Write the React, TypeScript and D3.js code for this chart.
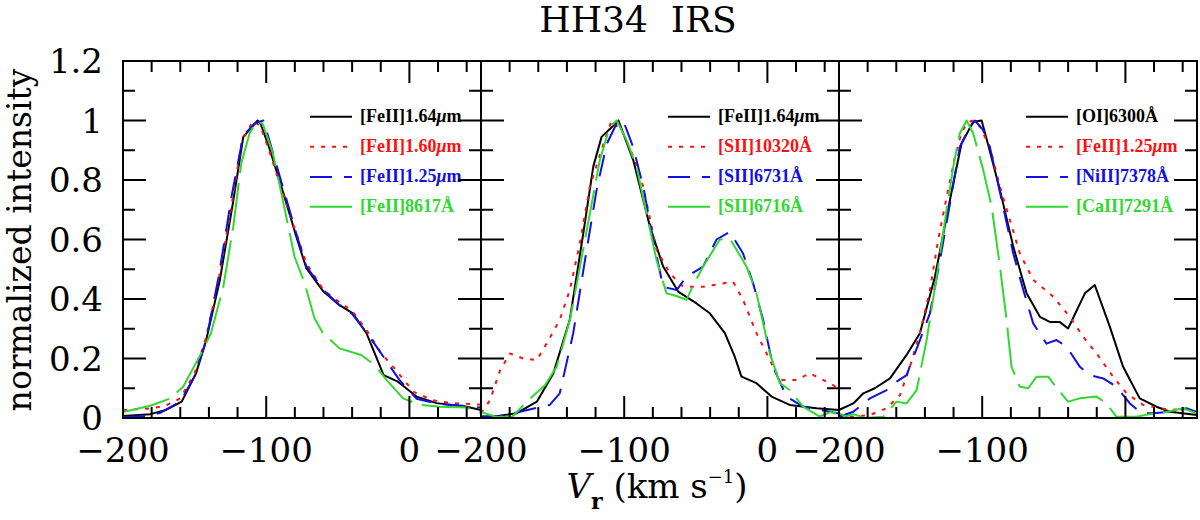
import * as d3 from 'd3'

type Pt = [number, number]

// panel 1: [FeII] lines
const p1Black: Pt[] = [[-200,0.007],[-181,0.013],[-170,0.027],[-159,0.055],[-149,0.15],[-142,0.26],[-132.5,0.46],[-123,0.73],[-116,0.945],[-106,1.0],[-104,0.99],[-98,0.91],[-88,0.756],[-79,0.61],[-72,0.504],[-60,0.425],[-49,0.38],[-39.5,0.352],[-30,0.285],[-18,0.144],[-8,0.122],[5,0.072],[19,0.05],[40,0.038],[50,0.027]]
const p1Red: Pt[] = [[-200,0.027],[-181,0.032],[-170,0.042],[-160,0.066],[-150,0.15],[-142,0.27],[-133,0.47],[-124,0.72],[-117,0.93],[-109,1.0],[-104,0.98],[-98,0.9],[-88,0.75],[-79,0.62],[-72,0.52],[-60,0.43],[-49,0.39],[-40,0.36],[-30,0.296],[-20,0.22],[-11,0.17],[3,0.088],[16,0.06],[30,0.05],[50,0.045]]
const p1Blue: Pt[] = [[-200,0.003],[-185,0.007],[-174,0.017],[-160,0.055],[-150,0.14],[-142,0.26],[-133,0.48],[-124,0.75],[-116,0.95],[-108,0.99],[-102,1.0],[-97,0.92],[-88,0.77],[-79,0.62],[-72,0.51],[-60,0.43],[-49,0.38],[-40,0.35],[-32,0.3],[-23,0.24],[-7,0.128],[5,0.065],[20,0.048],[35,0.042],[50,0.035]]
const p1Green: Pt[] = [[-200,0.02],[-181,0.041],[-167,0.066],[-158,0.105],[-144,0.23],[-138.6,0.285],[-130,0.44],[-123,0.643],[-117.4,0.856],[-111.6,0.957],[-107,0.996],[-102.5,0.99],[-95.3,0.89],[-88.4,0.733],[-80.2,0.542],[-73.2,0.453],[-66.3,0.335],[-60.4,0.285],[-48.8,0.234],[-33.7,0.212],[-24.2,0.178],[-16,0.128],[-4.4,0.066],[7.2,0.044],[21,0.038],[40,0.035],[50,0.017]]

// panel 2: [FeII] vs [SII]
const p2Black: Pt[] = [[-200,0.004],[-188,0.007],[-175,0.016],[-161,0.055],[-149.5,0.15],[-138,0.33],[-128.6,0.62],[-121.6,0.845],[-115.8,0.945],[-106,0.99],[-104,1.0],[-93.7,0.867],[-82,0.643],[-72.8,0.509],[-62.3,0.425],[-49.5,0.385],[-40.2,0.352],[-29.7,0.285],[-22.8,0.206],[-18.1,0.139],[-7.6,0.117],[2.9,0.072],[15.6,0.044],[34.3,0.033],[50,0.027]]
const p2Red: Pt[] = [[-200,0.016],[-193.7,0.06],[-186.7,0.16],[-179.8,0.217],[-170.5,0.2],[-161,0.195],[-154.2,0.25],[-145,0.33],[-138,0.43],[-131,0.587],[-124,0.777],[-114.6,0.92],[-108.8,1.0],[-100.7,0.957],[-92.5,0.867],[-86.7,0.777],[-77.4,0.565],[-68,0.486],[-58.8,0.441],[-44.9,0.441],[-24,0.458],[-17,0.397],[-7.6,0.285],[1.7,0.195],[8.7,0.128],[20.3,0.128],[29.6,0.15],[38.9,0.128],[50,0.1]]
const p2Blue: Pt[] = [[-200,0.005],[-189,0.004],[-172.8,0.021],[-152,0.044],[-145,0.083],[-135.6,0.285],[-127.4,0.53],[-119.3,0.766],[-112.3,0.92],[-105.3,0.99],[-100.7,1.0],[-93.7,0.91],[-86.7,0.777],[-79.8,0.6],[-72.8,0.441],[-63.4,0.43],[-56.5,0.475],[-44.9,0.509],[-35.5,0.6],[-26.3,0.626],[-17,0.553],[-10,0.453],[-3,0.33],[4,0.172],[13.3,0.072],[24.9,0.038],[50,0.015]]
const p2Green: Pt[] = [[-200,0.02],[-189,0.003],[-178,0.005],[-167,0.06],[-155.3,0.11],[-147.2,0.172],[-137.9,0.33],[-130.9,0.509],[-124,0.687],[-117,0.867],[-110,0.979],[-105.3,1.0],[-98.3,0.934],[-91.4,0.845],[-84.4,0.688],[-77.4,0.53],[-70.4,0.419],[-63.4,0.41],[-56.5,0.397],[-51.8,0.447],[-44.9,0.509],[-33.2,0.6],[-26.3,0.604],[-14.6,0.509],[-7.6,0.419],[1.7,0.217],[8.7,0.117],[15.6,0.094],[24.9,0.038],[36.6,0.005],[44,0.02],[50,0.013]]

// panel 3: [OI], [FeII], [NiII], [CaII]
const p3Black: Pt[] = [[-200,0.027],[-190,0.049],[-183,0.083],[-175,0.1],[-164.4,0.133],[-152.8,0.212],[-143.5,0.285],[-133,0.475],[-124.8,0.677],[-120.2,0.789],[-114.4,0.923],[-106.3,0.996],[-100.4,1.0],[-95.8,0.918],[-87.6,0.766],[-78.3,0.576],[-69,0.419],[-59.7,0.34],[-52.8,0.323],[-46,0.323],[-40,0.301],[-28.3,0.419],[-21.4,0.447],[-10.9,0.307],[-1.6,0.172],[10,0.066],[21.7,0.038],[31,0.021],[50,0.01]]
const p3Red: Pt[] = [[-200,0.008],[-190,0.004],[-178.4,0.01],[-166.7,0.033],[-157.4,0.077],[-150.5,0.172],[-143.5,0.285],[-136.5,0.43],[-130.7,0.6],[-124.8,0.744],[-119,0.878],[-114.4,0.96],[-110,0.995],[-106,1.0],[-101.6,0.98],[-94.6,0.91],[-87.6,0.777],[-80.7,0.666],[-73.7,0.553],[-64.4,0.464],[-50.4,0.408],[-38.8,0.34],[-29.5,0.273],[-20.2,0.217],[-8.6,0.139],[0.8,0.083],[12.4,0.044],[31,0.027],[42.6,0.03],[50,0.015]]
const p3Blue: Pt[] = [[-200,0.004],[-190,0.021],[-178.4,0.066],[-166.7,0.094],[-159.8,0.122],[-152.8,0.144],[-143.5,0.262],[-136.5,0.352],[-129.5,0.53],[-122.5,0.722],[-115.6,0.912],[-109.8,0.968],[-105.1,1.0],[-99.3,0.968],[-94.6,0.91],[-86.4,0.733],[-78.3,0.553],[-71.3,0.43],[-64.4,0.318],[-55.1,0.25],[-48.1,0.262],[-41.1,0.24],[-31.8,0.172],[-24.8,0.144],[-15.5,0.133],[-6.2,0.105],[3.1,0.049],[11.2,0.016],[20,0.016],[31,0.021],[42.6,0.033],[50,0.02]]
const p3Green: Pt[] = [[-200,0.016],[-195,0.005],[-190,0.013],[-182,0.0],[-169,0.004],[-159.8,0.055],[-152.8,0.049],[-145.8,0.094],[-138.8,0.262],[-131.8,0.475],[-124.8,0.7],[-120.2,0.845],[-115.6,0.957],[-110.9,1.0],[-106.3,0.957],[-99.3,0.834],[-93.4,0.71],[-87.6,0.509],[-83,0.33],[-79.5,0.172],[-73.7,0.105],[-67.9,0.1],[-62,0.139],[-53.9,0.139],[-46.9,0.094],[-40,0.055],[-31.8,0.066],[-20.2,0.072],[-13.2,0.049],[-6.2,0.004],[7.7,0.004],[17,0.013],[28.7,0.02],[40,0.033],[50,0.015]]

const p1Labels = ['[FeII]1.64μm', '[FeII]1.60μm', '[FeII]1.25μm', '[FeII]8617Å']
const p2Labels = ['[FeII]1.64μm', '[SII]10320Å', '[SII]6731Å', '[SII]6716Å']
const p3Labels = ['[OI]6300Å', '[FeII]1.25μm', '[NiII]7378Å', '[CaII]7291Å']

const xMinor = [-200, -180, -160, -140, -120, -100, -80, -60, -40, -20, 0, 20, 40]
const xMajor = [-200, -100, 0]
const yMinor = [0, 0.1, 0.2, 0.3, 0.4, 0.5, 0.6, 0.7, 0.8, 0.9, 1, 1.1, 1.2]
const yMajor = [0, 0.2, 0.4, 0.6, 0.8, 1, 1.2]
const legendRows = [1.013, 0.912, 0.81, 0.71]

const styles = [
  { color: '#000000', dash: undefined },
  { color: '#ff1010', dash: '4,7' },
  { color: '#1010e0', dash: '22,12' },
  { color: '#30d830', dash: '48,10' },
]

const panels = [
  { series: [p1Black, p1Red, p1Blue, p1Green], labels: p1Labels },
  { series: [p2Black, p2Red, p2Blue, p2Green], labels: p2Labels },
  { series: [p3Black, p3Red, p3Blue, p3Green], labels: p3Labels },
]

const W = 1200, H = 520
const plotLeft = 123, plotTop = 61, pw = 358, ph = 357
const serif = '"DejaVu Serif", serif'

const x = d3.scaleLinear().domain([-200, 50]).range([0, pw])
const y = d3.scaleLinear().domain([0, 1.2]).range([ph, 0])

// frame plus inward ticks of one panel, in one path string
function framePath(): string {
  let d = `M0,0L${pw},0L${pw},${ph}L0,${ph}Z`
  xMinor.forEach(t => {
    const len = xMajor.indexOf(t) >= 0 ? 22 : 11
    const px = x(t).toFixed(2)
    d += `M${px},${ph}L${px},${ph - len}M${px},0L${px},${len}`
  })
  yMinor.forEach(t => {
    const len = yMajor.indexOf(t) >= 0 ? 23 : 12
    const py = y(t).toFixed(2)
    d += `M0,${py}L${len},${py}M${pw},${py}L${pw - len},${py}`
  })
  return d
}

function Label({ text, lx, ly, color }: { text: string; lx: number; ly: number; color: string }) {
  const parts = text.split('μ')
  return (
    <text x={lx} y={ly} fill={color} fontFamily='"Liberation Serif", serif' fontWeight="bold" fontSize={18}>
      {parts[0]}
      {parts.length > 1 && <tspan fontStyle="italic">μ</tspan>}
      {parts.length > 1 && parts[1]}
    </text>
  )
}

function Panel({ idx }: { idx: number }) {
  const p = panels[idx]
  const x0 = plotLeft + idx * pw
  const line = d3.line<Pt>().x(d => x(d[0])).y(d => y(d[1]))
  const clipId = `clip${idx}`
  return (
    <g transform={`translate(${x0},${plotTop})`}>
      <defs>
        <clipPath id={clipId}><rect x={0} y={0} width={pw} height={ph} /></clipPath>
      </defs>
      <g clipPath={`url(#${clipId})`}>
        {p.series.map((s, i) => (
          <path key={i} d={line(s) || ''} fill="none" stroke={styles[i].color}
            strokeWidth={2} strokeDasharray={styles[i].dash} strokeLinejoin="round" />
        ))}
      </g>
      {p.labels.map((lab, i) => (
        <g key={i}>
          <line x1={187} x2={229} y1={y(legendRows[i])} y2={y(legendRows[i])}
            stroke={styles[i].color} strokeWidth={2} strokeDasharray={styles[i].dash} />
          <Label text={lab} lx={237} ly={y(legendRows[i]) + 5} color={styles[i].color} />
        </g>
      ))}
      <path d={framePath()} fill="none" stroke="#000" strokeWidth={2} />
      {xMajor.map(t => (
        <text key={t} x={x(t)} y={ph + 44} textAnchor="middle" fontFamily={serif} fontSize={34}>
          {t < 0 ? `−${-t}` : `${t}`}
        </text>
      ))}
      {idx === 0 && yMajor.map(t => (
        <text key={t} x={-20} y={y(t) + 12} textAnchor="end" fontFamily={serif} fontSize={34}>
          {`${t}`}
        </text>
      ))}
    </g>
  )
}

export default function App() {
  return (
    <svg width={W} height={H} viewBox={`0 0 ${W} ${H}`}
      style={{ position: 'absolute', left: 0, top: 0, background: '#fff' }}>
      <rect width={W} height={H} fill="#fff" />
      <text x={638} y={32} textAnchor="middle" fontFamily={serif} fontSize={36} xmlSpace="preserve">
        HH34  IRS
      </text>
      {panels.map((_, i) => <Panel key={i} idx={i} />)}
      <text transform="translate(31,240) rotate(-90)" textAnchor="middle" fontFamily={serif} fontSize={33}>
        normalized intensity
      </text>
      <text x={657} y={498} textAnchor="middle" fontFamily={serif} fontSize={34}>
        <tspan fontStyle="italic">V</tspan>
        <tspan fontSize={22} dy={11} fontWeight="bold">r</tspan>
        <tspan dy={-11}>{' (km s'}</tspan>
        <tspan fontSize={18} dy={-15}>−1</tspan>
        <tspan dy={15}>)</tspan>
      </text>
    </svg>
  )
}
